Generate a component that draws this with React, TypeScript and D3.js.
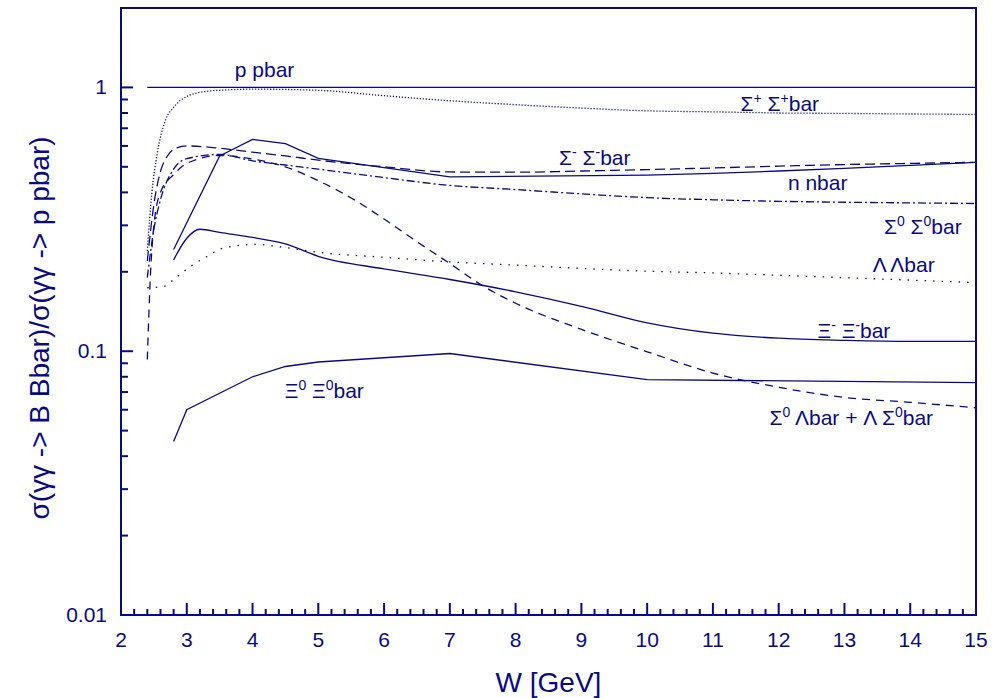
import React from "react";
import * as d3 from "d3";

// ---------- data ----------
const ppbarW = [2.4, 15];
const ppbarV = [1, 1];

const sigPlusW = [2.4, 2.47, 2.55, 2.67, 2.8, 3.0, 3.3, 3.6, 4, 5, 6, 7, 8, 9, 10, 11, 12, 13, 14, 15];
const sigPlusV = [0.24, 0.4, 0.56, 0.745, 0.84, 0.924, 0.966, 0.978, 0.985, 0.975, 0.93, 0.89, 0.86, 0.835, 0.815, 0.808, 0.8, 0.797, 0.793, 0.79];

const sigMinusW = [2.4, 2.5, 2.6, 2.7, 2.85, 3.0, 3.5, 4, 4.5, 5, 6, 7, 8, 9, 10, 11, 12, 13, 14, 15];
const sigMinusV = [0.22, 0.36, 0.48, 0.547, 0.59, 0.6, 0.588, 0.568, 0.55, 0.53, 0.5, 0.478, 0.477, 0.482, 0.488, 0.495, 0.503, 0.51, 0.515, 0.52];

const nnbarW = [2.8, 3.5, 4, 4.5, 5, 7, 10, 11, 12, 13, 14, 15];
const nnbarV = [0.243, 0.55, 0.635, 0.612, 0.538, 0.458, 0.465, 0.472, 0.482, 0.493, 0.506, 0.52];

const sig0W = [2.4, 2.5, 2.6, 2.8, 3.0, 3.5, 4, 4.5, 5, 6, 7, 8, 9, 10, 11, 12, 13, 14, 15];
const sig0V = [0.19, 0.29, 0.375, 0.49, 0.537, 0.557, 0.527, 0.508, 0.49, 0.455, 0.425, 0.41, 0.395, 0.382, 0.375, 0.37, 0.367, 0.365, 0.363];

const lamW = [2.4, 2.65, 2.8, 3.05, 3.3, 3.58, 4.07, 4.4, 5, 6, 7, 8, 9, 10, 11, 12, 13, 14, 15];
const lamV = [0.174, 0.176, 0.187, 0.209, 0.228, 0.247, 0.254, 0.249, 0.237, 0.227, 0.218, 0.212, 0.206, 0.201, 0.198, 0.194, 0.19, 0.186, 0.182];

const xiMinusW = [2.8, 3.0, 3.2, 3.5, 4, 4.5, 5, 6, 7, 8, 9, 10, 11, 12, 13, 14, 15];
const xiMinusV = [0.222, 0.268, 0.29, 0.282, 0.27, 0.255, 0.229, 0.205, 0.187, 0.168, 0.148, 0.128, 0.117, 0.112, 0.11, 0.109, 0.109];

const xi0W = [2.8, 3.0, 4.0, 4.5, 5.0, 7.0, 10.0, 15.0];
const xi0V = [0.0455, 0.06, 0.08, 0.0875, 0.091, 0.098, 0.078, 0.076];

const sig0LamW = [2.4, 2.45, 2.5, 2.6, 2.8, 3.0, 3.5, 4, 4.5, 5, 5.5, 6, 6.5, 7, 7.5, 8, 9, 10, 11, 12, 13, 14, 15];
const sig0LamV = [0.093, 0.2, 0.3, 0.4, 0.467, 0.515, 0.552, 0.535, 0.5, 0.443, 0.381, 0.317, 0.26, 0.215, 0.177, 0.152, 0.121, 0.0995, 0.0826, 0.073, 0.0668, 0.064, 0.061];

// labels: text with ^x marking a superscript character, anchor in data units (W, ratio)
const labelTexts = [
  "p pbar",
  "Σ^+ Σ^+bar",
  "Σ^- Σ^-bar",
  "n nbar",
  "Σ^0 Σ^0bar",
  "Λ Λbar",
  "Ξ^- Ξ^-bar",
  "Ξ^0 Ξ^0bar",
  "Σ^0 Λbar + Λ Σ^0bar",
];
const labelW = [3.73, 11.42, 8.66, 12.14, 13.6, 13.43, 12.59, 4.49, 11.86];
const labelV = [1.091, 0.811, 0.51, 0.41, 0.277, 0.199, 0.1125, 0.0666, 0.0526];

const xTickValues = [2, 3, 4, 5, 6, 7, 8, 9, 10, 11, 12, 13, 14, 15];
const yTickValues = [0.01, 0.1, 1];
const yTickLabels = ["0.01", "0.1", "1"];
const xTitle = "W [GeV]";
const yTitle = "σ(γγ -> B Bbar)/σ(γγ -> p pbar)";

// ---------- layout ----------
const WIDTH = 994;
const HEIGHT = 698;
const M = { left: 121, right: 18, top: 8, bottom: 83 };
const COLOR = "#0a0a80";
const FONT = "'Liberation Sans', Arial, Helvetica, sans-serif";

type Series = { w: number[]; v: number[]; dash: string | null; curve: d3.CurveFactory };

const series: Series[] = [
  { w: ppbarW, v: ppbarV, dash: null, curve: d3.curveLinear },
  { w: sigPlusW, v: sigPlusV, dash: "1.2,1.8", curve: d3.curveMonotoneX },
  { w: sigMinusW, v: sigMinusV, dash: "10,5", curve: d3.curveMonotoneX },
  { w: nnbarW, v: nnbarV, dash: null, curve: d3.curveLinear },
  { w: sig0W, v: sig0V, dash: "8,3,2,3", curve: d3.curveMonotoneX },
  { w: lamW, v: lamV, dash: "1.5,7", curve: d3.curveMonotoneX },
  { w: xiMinusW, v: xiMinusV, dash: null, curve: d3.curveMonotoneX },
  { w: xi0W, v: xi0V, dash: null, curve: d3.curveLinear },
  { w: sig0LamW, v: sig0LamV, dash: "8,6", curve: d3.curveMonotoneX },
];

function Label({ text, x, y }: { text: string; x: number; y: number }) {
  const parts = text.split(/(\^.)/).filter((p) => p.length > 0);
  const nodes: React.ReactNode[] = [];
  let raised = false;
  parts.forEach((p, i) => {
    if (p.startsWith("^")) {
      nodes.push(
        <tspan key={i} dy={-8} fontSize={14}>
          {p.slice(1)}
        </tspan>
      );
      raised = true;
    } else {
      nodes.push(
        <tspan key={i} dy={raised ? 8 : 0}>
          {p}
        </tspan>
      );
      raised = false;
    }
  });
  return (
    <text x={x} y={y} fontSize={21} fill={COLOR} fontFamily={FONT} style={{ whiteSpace: "pre" }}>
      {nodes}
    </text>
  );
}

export default function App() {
  const x = d3.scaleLinear().domain([2, 15]).range([M.left, WIDTH - M.right]);
  const y = d3.scaleLog().domain([0.01, 2]).range([HEIGHT - M.bottom, M.top]);
  const x0 = M.left;
  const x1 = WIDTH - M.right;
  const y0 = HEIGHT - M.bottom;
  const y1 = M.top;

  const xMinor = d3.range(2, 15.0001, 0.2).filter((t) => Math.abs(t - Math.round(t)) > 1e-6);
  const yMinor: number[] = [];
  [0.01, 0.1, 1].forEach((d) => {
    for (let k = 2; k <= 9; k++) {
      const v = d * k;
      if (v < 2 - 1e-9) yMinor.push(v);
    }
  });

  return (
    <svg
      width={WIDTH}
      height={HEIGHT}
      style={{ position: "absolute", left: 0, top: 0, background: "#fff" }}
      fontFamily={FONT}
    >
      <rect x={0} y={0} width={WIDTH} height={HEIGHT} fill="#fff" />
      {/* curves */}
      {series.map((s, i) => {
        const pts: [number, number][] = s.w.map((w, j) => [w, s.v[j]]);
        const line = d3
          .line<[number, number]>()
          .x((d) => x(d[0]))
          .y((d) => y(d[1]))
          .curve(s.curve);
        return (
          <path
            key={i}
            d={line(pts) || ""}
            fill="none"
            stroke={COLOR}
            strokeWidth={1.3}
            strokeDasharray={s.dash || undefined}
          />
        );
      })}
      {/* labels */}
      {labelTexts.map((t, i) => (
        <Label key={i} text={t} x={x(labelW[i])} y={y(labelV[i])} />
      ))}
      {/* ticks */}
      {xTickValues.map((t) => (
        <line key={"xm" + t} x1={x(t)} x2={x(t)} y1={y0} y2={y0 - 12} stroke={COLOR} strokeWidth={2} />
      ))}
      {xMinor.map((t) => (
        <line key={"xn" + t} x1={x(t)} x2={x(t)} y1={y0} y2={y0 - 6} stroke={COLOR} strokeWidth={2} />
      ))}
      {yTickValues.map((t) => (
        <line key={"ym" + t} x1={x0} x2={x0 + 12} y1={y(t)} y2={y(t)} stroke={COLOR} strokeWidth={2} />
      ))}
      {yMinor.map((t) => (
        <line key={"yn" + t} x1={x0} x2={x0 + 7} y1={y(t)} y2={y(t)} stroke={COLOR} strokeWidth={2} />
      ))}
      {/* frame */}
      <rect x={x0} y={y1} width={x1 - x0} height={y0 - y1} fill="none" stroke={COLOR} strokeWidth={2} />
      {/* tick labels */}
      {xTickValues.map((t) => (
        <text key={"xl" + t} x={x(t)} y={y0 + 32} textAnchor="middle" fontSize={21} fill={COLOR}>
          {t}
        </text>
      ))}
      {yTickValues.map((t, i) => (
        <text key={"yl" + t} x={x0 - 14} y={y(t) + 7} textAnchor="end" fontSize={21} fill={COLOR}>
          {yTickLabels[i]}
        </text>
      ))}
      {/* axis titles */}
      <text x={(x0 + x1) / 2} y={692} textAnchor="middle" fontSize={28} fill={COLOR}>
        {xTitle}
      </text>
      <text
        transform={`translate(49, 328) rotate(-90)`}
        textAnchor="middle"
        fontSize={28}
        fill={COLOR}
      >
        {yTitle}
      </text>
    </svg>
  );
}
